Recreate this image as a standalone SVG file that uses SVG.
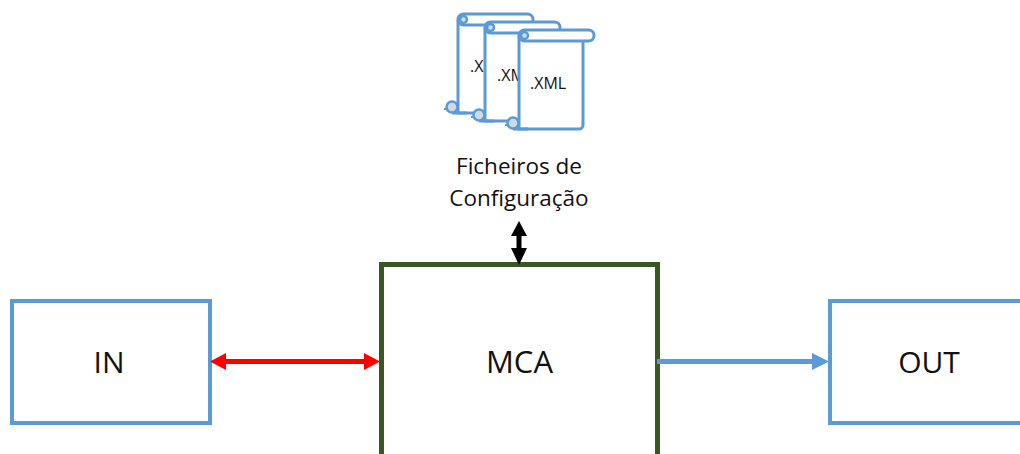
<svg xmlns="http://www.w3.org/2000/svg" width="1020" height="454" viewBox="0 0 1020 454">
<style>
text{font-family:"Open Sans","Noto Sans","Liberation Sans",sans-serif;fill:#111;text-anchor:middle}
.box{fill:#fff;stroke:#5B9BD5;stroke-width:4}
.mca{fill:#fff;stroke:#385723;stroke-width:5}
.big{font-size:30px}
.lab{font-size:22.500px}
.xml{font-size:16px;text-anchor:start}
.s{fill:#fff;stroke:#5B9BD5;stroke-width:3;stroke-linejoin:round}
.c{fill:#CFDAE6;stroke:#5B9BD5;stroke-width:2.500}
.t{fill:none;stroke:#5B9BD5;stroke-width:2}
</style>
<defs>
<symbol id="scroll" overflow="visible">
<path class="s" d="M1 7V100H61A4 4 0 0 0 65 96V12"/>
<path class="s" d="M-5 100H10"/>
<rect class="s" x="1" y="1" width="75" height="11" rx="5.500"/>
<circle class="c" cx="6.500" cy="6.500" r="3.500"/>
<circle class="c" cx="-5" cy="94" r="5.500"/>
<path class="t" d="M-13 96H-10"/>
</symbol>
</defs>
<g id="file1"><use href="#scroll" x="457" y="13"/><text class="xml" x="470" y="72">.X</text></g>
<g id="file2"><use href="#scroll" x="484" y="21"/><text class="xml" x="497" y="81">.XM</text></g>
<g id="file3"><use href="#scroll" x="518" y="29"/><text class="xml" x="530" y="89">.XML</text></g>
<g id="config"><text class="lab" x="519" y="174">Ficheiros de</text><text class="lab" x="519" y="206">Configuração</text></g>
<g id="in"><rect class="box" x="12" y="301" width="198" height="122"/><text class="big" x="109" y="373">IN</text></g>
<g id="mca"><rect class="mca" x="381.500" y="264.500" width="276" height="200"/><text class="big" style="font-size:31px" x="519.500" y="373">MCA</text></g>
<g id="out"><rect class="box" x="830" y="301" width="210" height="122"/><text class="big" x="929" y="373">OUT</text></g>
<g id="connectors">
<path d="M224 359H366V364H224Z" fill="#f00"/>
<path d="M210 361.500L226 353V370ZM380 361.500L364 353V370Z" fill="#f00"/>
<path d="M657 359H814V364H657Z" fill="#5B9BD5"/>
<path d="M829 361.500L812 353V370Z" fill="#5B9BD5"/>
<path d="M516.500 234H521.500V252H516.500Z" fill="#000"/>
<path d="M519 221L511 236H527ZM519 265L511 248H527Z" fill="#000"/>
</g>
</svg>
